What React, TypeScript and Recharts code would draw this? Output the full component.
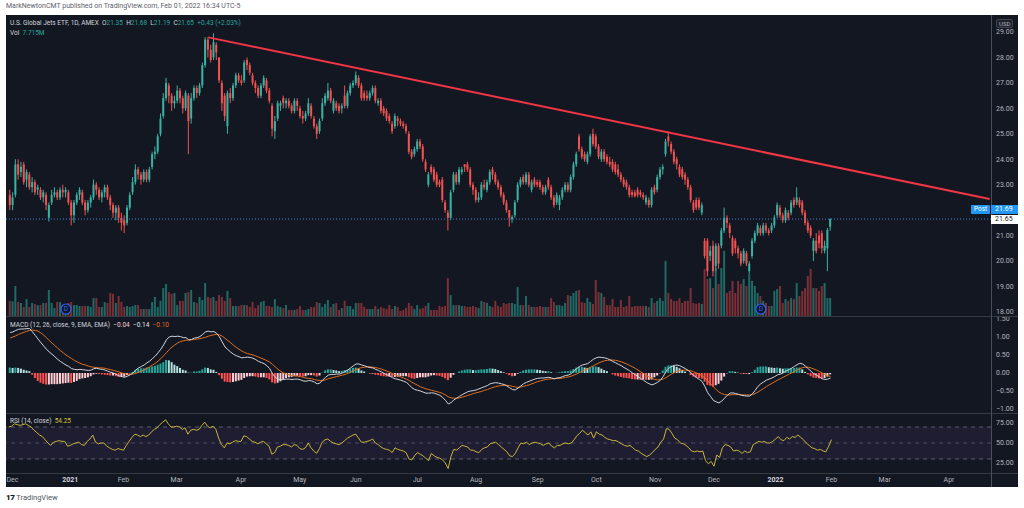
import React from "react";
import {
  Bar,
  Cell,
  ComposedChart,
  Line,
  ReferenceArea,
  ReferenceDot,
  ReferenceLine,
  XAxis,
  YAxis,
} from "recharts";

// daily bars, Dec 1 2020 .. Feb 1 2022 (index 0 .. 294)
const opens = [
  22.6, 22.2, 22.6, 23.8, 23.5, 23.8, 23.2, 23.4, 22.9, 23.1,
  22.8, 22.8, 22.5, 22.6, 21.7, 22.3, 22.6, 22.7, 22.5, 22.8,
  22.7, 22.7, 22.3, 21.8, 22.3, 22.6, 22.7, 22.3, 22.0, 22.3,
  22.5, 23.0, 22.8, 22.5, 22.7, 22.9, 22.5, 22.2, 21.9, 22.1,
  21.7, 21.6, 21.5, 22.1, 22.7, 23.1, 23.6, 23.4, 23.2, 23.5,
  23.2, 23.7, 24.2, 24.3, 25.0, 25.7, 26.4, 26.9, 26.5, 26.2,
  26.3, 26.7, 26.4, 26.0, 26.5, 25.6, 26.4, 26.8, 26.6, 26.9,
  27.7, 28.7, 28.3, 28.0, 28.5, 28.0, 27.0, 26.5, 25.3, 26.6,
  26.4, 26.9, 27.3, 27.1, 27.1, 27.9, 27.7, 27.3, 27.0, 26.8,
  26.5, 26.9, 27.1, 26.7, 26.1, 25.1, 25.6, 26.1, 26.4, 26.2,
  26.3, 26.1, 25.9, 26.3, 26.0, 25.7, 25.6, 25.8, 26.1, 25.6,
  25.3, 25.1, 25.6, 26.2, 26.4, 26.7, 25.9, 26.2, 26.1, 26.0,
  26.5, 26.1, 26.6, 26.9, 27.0, 27.2, 26.9, 26.6, 26.5, 26.4,
  26.6, 26.8, 26.2, 26.3, 26.0, 25.9, 25.7, 25.4, 25.3, 25.6,
  25.5, 25.4, 25.3, 25.0, 24.3, 24.2, 24.4, 24.7, 24.5, 23.9,
  23.0, 23.7, 23.6, 23.4, 23.1, 23.2, 22.3, 21.9, 21.7, 22.8,
  23.4, 23.1, 23.5, 23.8, 23.8, 23.6, 23.0, 22.8, 22.4, 22.5,
  23.0, 22.8, 23.1, 23.6, 23.4, 23.1, 22.9, 22.6, 22.3, 22.0,
  21.65, 21.8, 22.4, 23.0, 23.3, 23.1, 23.4, 22.8, 23.2, 23.1,
  23.1, 22.9, 22.7, 23.2, 22.9, 22.5, 22.3, 22.2, 22.5, 22.8,
  23.0, 22.8, 23.3, 23.8, 24.9, 24.4, 24.2, 23.9, 24.2, 25.0,
  24.9, 24.5, 24.0, 24.3, 24.1, 23.9, 23.9, 23.8, 23.6, 23.4,
  23.2, 23.1, 22.9, 22.7, 22.7, 22.8, 22.7, 22.6, 22.3, 22.4,
  22.2, 22.9, 22.8, 23.3, 23.6, 24.2, 24.9, 24.6, 24.3, 24.0,
  23.7, 23.6, 23.4, 23.2, 22.9, 22.3, 22.4, 22.4, 21.9, 20.8,
  20.8, 20.2, 20.6, 19.8, 20.6, 20.6, 21.2, 21.7, 21.4, 20.9,
  20.8, 20.5, 20.3, 20.0, 20.3, 19.6, 20.2, 20.8, 21.1, 21.3,
  21.1, 21.4, 21.2, 21.2, 21.4, 21.8, 22.1, 21.8, 21.6, 21.9,
  21.9, 22.4, 22.3, 22.4, 22.3, 21.9, 21.5, 21.3, 20.4, 20.8,
  21.0, 21.1, 20.4, 20.5, 21.35,
];

const highs = [
  22.8, 22.7, 24.0, 24.0, 23.9, 23.9, 23.6, 23.5, 23.3, 23.2,
  23.0, 22.9, 22.8, 22.7, 22.3, 22.8, 22.9, 22.8, 22.9, 23.0,
  22.9, 22.8, 22.4, 22.4, 22.7, 22.9, 22.8, 22.4, 22.4, 22.6,
  23.2, 23.1, 22.9, 22.8, 23.0, 23.0, 22.6, 22.3, 22.2, 22.2,
  21.9, 21.8, 22.2, 22.7, 23.3, 23.8, 23.7, 23.5, 23.6, 23.6,
  23.7, 24.3, 24.5, 25.0, 25.8, 26.6, 27.2, 27.0, 26.6, 26.5,
  26.9, 26.8, 26.5, 26.7, 26.6, 26.6, 26.9, 26.9, 27.0, 27.8,
  28.8, 28.8, 28.5, 28.95, 28.6, 28.0, 27.1, 26.6, 26.7, 26.8,
  27.0, 27.4, 27.4, 27.3, 27.9, 28.0, 27.8, 27.4, 27.1, 26.9,
  27.0, 27.3, 27.2, 26.8, 26.2, 25.7, 26.3, 26.3, 26.5, 26.4,
  26.4, 26.2, 26.4, 26.4, 26.1, 25.9, 25.9, 26.4, 26.2, 25.7,
  25.4, 25.6, 26.4, 26.6, 27.0, 26.8, 26.4, 26.3, 26.2, 26.2,
  26.9, 26.7, 27.0, 27.1, 27.45, 27.3, 27.0, 26.7, 26.7, 26.7,
  26.9, 26.9, 26.4, 26.4, 26.1, 26.0, 25.8, 25.5, 25.8, 25.7,
  25.6, 25.5, 25.4, 25.1, 24.4, 24.5, 24.8, 24.8, 24.6, 24.0,
  23.5, 23.8, 23.7, 23.5, 23.2, 23.3, 22.4, 22.0, 22.8, 23.5,
  23.5, 23.7, 23.7, 23.8, 23.9, 23.7, 23.1, 22.9, 22.7, 23.1,
  23.2, 23.2, 23.6, 23.7, 23.5, 23.2, 23.0, 22.7, 22.4, 22.0,
  21.8, 22.4, 23.1, 23.3, 23.4, 23.5, 23.5, 23.2, 23.3, 23.2,
  23.2, 23.0, 23.0, 23.3, 23.0, 22.6, 22.7, 22.6, 22.9, 23.1,
  23.1, 23.4, 23.9, 24.3, 25.0, 24.5, 24.3, 24.3, 25.0, 25.2,
  25.0, 24.6, 24.4, 24.4, 24.2, 24.1, 24.0, 23.9, 23.8, 23.5,
  23.3, 23.2, 23.0, 22.8, 22.8, 22.9, 22.8, 22.7, 22.6, 22.5,
  22.9, 23.0, 23.4, 23.7, 23.8, 24.8, 25.1, 24.7, 24.4, 24.1,
  23.8, 23.7, 23.5, 23.3, 23.0, 22.4, 22.5, 22.5, 22.3, 20.9,
  20.9, 20.6, 20.8, 20.7, 20.7, 21.3, 22.1, 21.8, 21.5, 21.0,
  20.9, 20.6, 20.4, 20.5, 20.4, 20.0, 20.9, 21.2, 21.5, 21.4,
  21.5, 21.5, 21.3, 21.5, 21.8, 22.3, 22.2, 21.9, 22.1, 22.0,
  22.4, 22.5, 22.9, 22.5, 22.4, 22.0, 21.6, 21.4, 20.9, 21.1,
  21.2, 21.2, 20.8, 21.3, 21.68,
];

const lows = [
  22.0, 22.0, 22.5, 23.2, 23.3, 23.0, 22.9, 22.8, 22.7, 22.6,
  22.6, 22.4, 22.3, 22.0, 21.55, 22.2, 22.5, 22.4, 22.4, 22.5,
  22.5, 22.2, 21.4, 21.5, 22.2, 22.4, 22.2, 21.8, 21.9, 22.1,
  22.4, 22.6, 22.4, 22.3, 22.5, 22.4, 22.0, 21.7, 21.6, 21.5,
  21.2, 21.1, 21.4, 22.0, 22.6, 23.0, 23.2, 23.0, 23.1, 23.1,
  23.1, 23.6, 24.0, 24.2, 24.9, 25.6, 26.3, 26.2, 25.9, 26.0,
  26.2, 26.2, 25.8, 25.9, 24.2, 25.4, 26.3, 26.4, 26.5, 26.8,
  27.6, 28.0, 27.8, 27.9, 27.9, 27.0, 25.9, 25.5, 25.0, 26.2,
  26.3, 26.8, 27.0, 26.9, 27.0, 27.5, 27.3, 26.9, 26.6, 26.4,
  26.4, 26.8, 26.6, 26.2, 24.9, 24.8, 25.5, 25.9, 26.0, 26.0,
  26.0, 25.8, 25.8, 25.9, 25.6, 25.4, 25.5, 25.7, 25.6, 25.2,
  24.8, 25.0, 25.5, 26.1, 26.3, 26.2, 25.8, 25.9, 25.8, 25.8,
  26.0, 26.0, 26.5, 26.8, 26.9, 26.8, 26.3, 26.3, 26.3, 26.3,
  26.5, 26.2, 26.1, 25.8, 25.7, 25.5, 25.4, 25.0, 25.2, 25.3,
  25.3, 25.2, 25.0, 24.2, 24.0, 24.1, 24.3, 24.4, 23.9, 23.5,
  22.9, 23.4, 23.1, 22.9, 22.9, 22.3, 21.9, 21.2, 21.6, 22.7,
  23.0, 23.0, 23.4, 23.5, 23.5, 22.9, 22.6, 22.3, 22.3, 22.4,
  22.8, 22.7, 23.0, 23.2, 23.0, 22.8, 22.5, 22.2, 21.9, 21.35,
  21.5, 21.7, 22.3, 22.9, 23.0, 23.0, 22.9, 22.7, 22.9, 22.9,
  22.8, 22.6, 22.6, 22.8, 22.4, 22.1, 22.2, 22.0, 22.4, 22.7,
  22.7, 22.7, 23.2, 23.7, 24.3, 24.0, 23.9, 23.8, 24.1, 24.5,
  24.4, 24.0, 23.9, 23.9, 23.8, 23.7, 23.5, 23.4, 23.3, 23.1,
  22.9, 22.8, 22.5, 22.5, 22.5, 22.5, 22.5, 22.4, 22.2, 22.1,
  22.1, 22.6, 22.7, 23.2, 23.4, 24.1, 24.5, 24.2, 23.8, 23.6,
  23.3, 23.2, 23.0, 22.8, 22.3, 21.9, 22.0, 22.0, 21.8, 20.1,
  19.4, 20.0, 19.4, 19.6, 19.7, 20.5, 21.1, 21.3, 20.9, 20.2,
  20.3, 20.1, 19.8, 19.9, 19.8, 19.5, 20.1, 20.7, 21.0, 21.0,
  21.0, 21.1, 21.0, 21.1, 21.3, 21.7, 21.7, 21.5, 21.5, 21.6,
  21.8, 22.1, 22.2, 22.1, 21.8, 21.4, 21.1, 20.9, 20.0, 20.3,
  20.5, 20.3, 20.3, 19.6, 21.19,
];

const closes = [
  22.2, 22.5, 23.8, 23.4, 23.7, 23.1, 23.5, 22.9, 23.1, 22.7,
  22.9, 22.5, 22.7, 22.2, 22.2, 22.6, 22.7, 22.5, 22.8, 22.7,
  22.8, 22.3, 21.8, 22.3, 22.6, 22.8, 22.3, 22.0, 22.3, 22.5,
  23.0, 22.8, 22.5, 22.7, 22.9, 22.5, 22.2, 21.9, 22.1, 21.7,
  21.5, 21.4, 22.1, 22.6, 23.1, 23.6, 23.4, 23.2, 23.5, 23.2,
  23.6, 24.2, 24.3, 24.9, 25.6, 26.4, 27.0, 26.5, 26.2, 26.3,
  26.7, 26.4, 26.0, 26.6, 25.5, 26.4, 26.8, 26.6, 26.9, 27.7,
  28.7, 28.3, 27.9, 28.6, 28.2, 27.1, 26.2, 25.7, 26.6, 26.4,
  26.9, 27.3, 27.1, 27.0, 27.8, 27.7, 27.4, 27.0, 26.8, 26.5,
  26.9, 27.2, 26.7, 26.3, 25.2, 25.5, 26.2, 26.2, 26.2, 26.3,
  26.1, 25.9, 26.3, 26.1, 25.7, 25.6, 25.8, 26.2, 25.7, 25.3,
  25.0, 25.5, 26.2, 26.5, 26.7, 26.3, 26.3, 26.0, 25.9, 26.1,
  26.1, 26.6, 26.9, 27.0, 27.3, 26.9, 26.4, 26.4, 26.4, 26.6,
  26.8, 26.3, 26.3, 25.9, 25.8, 25.6, 25.5, 25.1, 25.7, 25.5,
  25.4, 25.3, 25.1, 24.3, 24.1, 24.4, 24.7, 24.5, 24.0, 23.6,
  23.4, 23.5, 23.2, 23.0, 23.0, 22.4, 22.0, 21.7, 22.7, 23.4,
  23.1, 23.6, 23.6, 23.7, 23.6, 23.0, 22.8, 22.4, 22.5, 23.0,
  22.9, 23.1, 23.5, 23.4, 23.1, 22.9, 22.6, 22.3, 22.0, 21.7,
  21.72, 22.3, 23.0, 23.2, 23.1, 23.4, 23.0, 23.1, 23.0, 23.0,
  22.9, 22.7, 22.9, 22.9, 22.5, 22.2, 22.6, 22.5, 22.8, 23.0,
  22.8, 23.3, 23.8, 24.2, 24.4, 24.1, 24.0, 24.2, 24.9, 24.6,
  24.5, 24.1, 24.3, 24.0, 23.9, 23.8, 23.6, 23.5, 23.4, 23.2,
  23.0, 22.9, 22.6, 22.6, 22.55, 22.6, 22.6, 22.5, 22.5, 22.2,
  22.8, 22.7, 23.3, 23.6, 23.7, 24.7, 24.7, 24.3, 23.9, 23.8,
  23.4, 23.3, 23.2, 22.9, 22.4, 22.0, 22.1, 22.1, 22.2, 20.2,
  19.6, 20.4, 19.6, 20.6, 19.9, 21.2, 21.7, 21.5, 21.1, 20.3,
  20.5, 20.3, 19.9, 20.4, 19.9, 19.9, 20.8, 21.1, 21.4, 21.1,
  21.4, 21.2, 21.1, 21.4, 21.7, 22.2, 21.8, 21.6, 22.0, 21.7,
  22.3, 22.2, 22.5, 22.2, 21.9, 21.5, 21.2, 21.0, 20.8, 20.4,
  20.7, 20.5, 20.6, 21.22, 21.65,
];

// volume, millions
const volumes = [
  6.5, 6.3, 12.9, 6.0, 5.6, 3.9, 7.3, 3.9, 5.6, 5.2,
  4.7, 4.7, 5.6, 5.6, 11.2, 5.6, 3.4, 6.0, 6.0, 2.6,
  3.0, 5.6, 6.0, 4.7, 4.7, 4.3, 4.3, 4.3, 4.3, 3.9,
  7.7, 7.7, 3.9, 3.9, 6.0, 5.6, 9.9, 9.5, 5.6, 8.6,
  6.0, 3.9, 4.3, 3.9, 4.3, 4.7, 4.7, 3.0, 3.0, 3.0,
  3.0, 6.0, 8.2, 3.9, 6.5, 12.0, 13.8, 10.3, 9.5, 9.9,
  4.7, 6.5, 6.5, 9.9, 10.3, 11.2, 6.0, 5.6, 8.2, 6.9,
  14.2, 8.2, 7.7, 8.2, 6.5, 9.0, 8.2, 6.5, 10.8, 7.7,
  4.3, 4.3, 4.3, 4.7, 4.7, 4.7, 3.9, 6.0, 3.4, 4.7,
  6.0, 6.5, 4.3, 4.3, 3.9, 7.3, 4.3, 3.9, 3.4, 4.7,
  2.6, 2.6, 2.6, 3.0, 4.3, 2.6, 2.6, 3.0, 3.9, 3.9,
  6.0, 5.6, 3.9, 5.2, 6.9, 3.9, 5.2, 5.6, 2.6, 3.4,
  6.5, 4.3, 4.3, 3.0, 5.6, 5.6, 5.6, 3.9, 3.0, 3.0,
  3.0, 4.3, 3.0, 3.9, 3.4, 3.0, 4.7, 3.0, 4.3, 3.9,
  2.2, 2.6, 3.4, 5.6, 4.3, 3.0, 4.7, 3.0, 3.4, 4.3,
  5.6, 2.6, 2.6, 2.6, 4.3, 3.9, 4.3, 16.3, 9.0, 4.7,
  4.7, 4.7, 4.3, 4.3, 3.9, 3.9, 4.3, 3.9, 3.4, 6.5,
  6.0, 5.6, 4.3, 3.9, 6.5, 4.3, 3.9, 5.6, 5.2, 5.6,
  5.6, 5.2, 12.5, 4.7, 4.7, 8.6, 4.7, 3.9, 3.9, 3.9,
  4.3, 3.9, 3.9, 3.9, 7.7, 6.0, 4.7, 4.7, 4.3, 5.6,
  9.0, 8.6, 9.9, 10.8, 11.2, 6.0, 5.6, 7.7, 6.0, 5.2,
  15.5, 10.3, 9.9, 8.2, 4.7, 4.7, 7.3, 3.9, 3.9, 6.9,
  3.9, 4.3, 8.6, 3.9, 4.3, 4.3, 4.3, 4.3, 4.3, 3.9,
  7.7, 5.6, 6.5, 7.7, 6.5, 23.7, 9.9, 7.3, 6.5, 6.5,
  7.7, 5.6, 6.5, 6.5, 12.0, 5.6, 5.2, 5.6, 5.2, 20.2,
  15.9, 16.3, 12.0, 20.6, 13.8, 20.6, 28.0, 9.9, 10.8, 15.1,
  9.9, 15.1, 13.8, 15.9, 12.9, 18.1, 15.1, 12.9, 9.9, 8.6,
  6.5, 5.6, 4.3, 4.3, 10.8, 11.6, 12.9, 5.6, 7.3, 6.5,
  7.7, 7.3, 14.2, 8.6, 10.8, 12.0, 17.2, 20.2, 12.0, 12.0,
  10.8, 12.9, 14.2, 7.7, 7.715,
];

const macdLine = [
  1.12, 1.14, 1.18, 1.21, 1.22, 1.22, 1.23, 1.23, 1.14, 1.04,
  0.94, 0.84, 0.75, 0.66, 0.58, 0.52, 0.45, 0.38, 0.32, 0.27,
  0.22, 0.18, 0.12, 0.1, 0.09, 0.1, 0.09, 0.08, 0.07, 0.08,
  0.12, 0.13, 0.11, 0.1, 0.08, 0.05, 0.02, 0.0, -0.04, -0.08,
  -0.1, -0.12, -0.09, -0.05, 0.0, 0.08, 0.14, 0.18, 0.22, 0.28,
  0.33, 0.4, 0.47, 0.56, 0.66, 0.78, 0.92, 1.0, 1.02, 1.01,
  1.02, 1.01, 0.98, 0.98, 0.92, 0.93, 0.97, 0.98, 1.01, 1.07,
  1.14, 1.16, 1.14, 1.15, 1.1, 1.0, 0.86, 0.72, 0.65, 0.58,
  0.52, 0.48, 0.45, 0.42, 0.43, 0.44, 0.43, 0.41, 0.37, 0.32,
  0.29, 0.26, 0.2, 0.12, -0.02, -0.12, -0.17, -0.19, -0.18, -0.17,
  -0.17, -0.18, -0.17, -0.17, -0.19, -0.22, -0.23, -0.21, -0.22, -0.25,
  -0.3, -0.28, -0.2, -0.12, -0.06, -0.04, -0.04, -0.03, -0.03, 0.0,
  0.04, 0.08, 0.14, 0.2, 0.25, 0.25, 0.22, 0.2, 0.17, 0.15,
  0.14, 0.1, 0.07, 0.03, -0.01, -0.05, -0.08, -0.13, -0.16, -0.18,
  -0.2, -0.23, -0.26, -0.33, -0.41, -0.46, -0.48, -0.5, -0.53, -0.56,
  -0.56, -0.55, -0.56, -0.59, -0.62, -0.68, -0.76, -0.86, -0.82, -0.75,
  -0.7, -0.65, -0.6, -0.56, -0.52, -0.5, -0.49, -0.47, -0.44, -0.41,
  -0.38, -0.35, -0.3, -0.28, -0.27, -0.28, -0.3, -0.32, -0.36, -0.41,
  -0.46, -0.47, -0.42, -0.36, -0.3, -0.26, -0.23, -0.2, -0.17, -0.15,
  -0.14, -0.14, -0.13, -0.12, -0.14, -0.16, -0.14, -0.13, -0.1, -0.07,
  -0.06, -0.02, 0.05, 0.12, 0.18, 0.22, 0.24, 0.26, 0.32, 0.38,
  0.42, 0.44, 0.43, 0.42, 0.4, 0.36, 0.32, 0.28, 0.24, 0.2,
  0.15, 0.11, 0.06, 0.0, -0.05, -0.1, -0.16, -0.2, -0.26, -0.3,
  -0.33, -0.3, -0.26, -0.2, -0.1, 0.04, 0.13, 0.18, 0.21, 0.22,
  0.2, 0.16, 0.12, 0.07, 0.0, -0.07, -0.13, -0.18, -0.24, -0.38,
  -0.55, -0.65, -0.76, -0.8, -0.83, -0.78, -0.7, -0.62, -0.56, -0.55,
  -0.57, -0.59, -0.62, -0.63, -0.64, -0.64, -0.58, -0.48, -0.37, -0.3,
  -0.25, -0.2, -0.17, -0.14, -0.1, -0.05, -0.03, 0.0, 0.05, 0.09,
  0.13, 0.18, 0.23, 0.27, 0.25, 0.19, 0.12, 0.05, -0.02, -0.06,
  -0.11, -0.16, -0.18, -0.17, -0.14,
];

const signalLine = [
  0.97, 1.0, 1.03, 1.07, 1.1, 1.13, 1.16, 1.18, 1.19, 1.18,
  1.16, 1.11, 1.05, 0.98, 0.9, 0.83, 0.76, 0.69, 0.62, 0.56,
  0.5, 0.45, 0.4, 0.35, 0.31, 0.27, 0.24, 0.22, 0.19, 0.17,
  0.16, 0.15, 0.14, 0.14, 0.13, 0.11, 0.09, 0.07, 0.05, 0.03,
  0.0, -0.02, -0.03, -0.04, -0.03, -0.01, 0.02, 0.05, 0.09, 0.13,
  0.17, 0.22, 0.27, 0.33, 0.4, 0.48, 0.56, 0.65, 0.72, 0.78,
  0.83, 0.87, 0.89, 0.91, 0.91, 0.92, 0.93, 0.94, 0.95, 0.97,
  0.99, 1.02, 1.04, 1.06, 1.07, 1.06, 1.02, 0.96, 0.9, 0.84,
  0.77, 0.71, 0.66, 0.61, 0.57, 0.54, 0.52, 0.5, 0.47, 0.44,
  0.41, 0.38, 0.34, 0.3, 0.24, 0.17, 0.1, 0.04, 0.0, -0.03,
  -0.05, -0.07, -0.08, -0.09, -0.1, -0.12, -0.14, -0.15, -0.16, -0.18,
  -0.2, -0.21, -0.21, -0.19, -0.16, -0.14, -0.12, -0.1, -0.08, -0.06,
  -0.04, -0.01, 0.02, 0.06, 0.1, 0.13, 0.15, 0.16, 0.17, 0.17,
  0.16, 0.15, 0.13, 0.11, 0.08, 0.05, 0.02, -0.02, -0.05, -0.08,
  -0.11, -0.14, -0.17, -0.21, -0.26, -0.3, -0.34, -0.38, -0.41, -0.44,
  -0.46, -0.48, -0.5, -0.52, -0.54, -0.57, -0.61, -0.66, -0.69, -0.7,
  -0.7, -0.69, -0.67, -0.65, -0.62, -0.6, -0.57, -0.55, -0.53, -0.51,
  -0.48, -0.46, -0.43, -0.4, -0.38, -0.36, -0.35, -0.34, -0.34, -0.35,
  -0.37, -0.39, -0.4, -0.39, -0.37, -0.35, -0.33, -0.3, -0.27, -0.24,
  -0.22, -0.2, -0.18, -0.17, -0.16, -0.16, -0.15, -0.15, -0.14, -0.12,
  -0.11, -0.09, -0.06, -0.03, 0.01, 0.05, 0.09, 0.12, 0.16, 0.2,
  0.24, 0.28, 0.31, 0.34, 0.35, 0.36, 0.36, 0.35, 0.33, 0.31,
  0.28, 0.25, 0.21, 0.17, 0.13, 0.08, 0.03, -0.02, -0.07, -0.11,
  -0.15, -0.18, -0.19, -0.19, -0.17, -0.13, -0.08, -0.03, 0.01, 0.05,
  0.07, 0.08, 0.08, 0.07, 0.06, 0.03, 0.0, -0.04, -0.08, -0.14,
  -0.22, -0.3, -0.38, -0.46, -0.53, -0.57, -0.6, -0.61, -0.61, -0.6,
  -0.6, -0.6, -0.6, -0.61, -0.61, -0.61, -0.6, -0.57, -0.53, -0.48,
  -0.43, -0.38, -0.33, -0.29, -0.24, -0.2, -0.16, -0.12, -0.08, -0.04,
  0.0, 0.04, 0.08, 0.12, 0.15, 0.16, 0.16, 0.14, 0.11, 0.08,
  0.04, 0.0, -0.04, -0.07, -0.1,
];

const rsiLine = [
  70, 71, 74, 73, 72, 73, 74, 72, 70, 66,
  63, 60, 58, 54, 50, 47, 51, 52, 53, 52,
  52, 46, 47, 49, 50, 51, 48, 47, 52, 55,
  60, 51, 49, 50, 50, 46, 44, 42, 41, 43,
  42, 41, 47, 52, 57, 61, 60, 58, 60, 58,
  60, 64, 67, 69, 73, 76, 79, 74, 70, 70,
  71, 70, 67, 69, 61, 66, 67, 66, 67, 72,
  76, 71, 69, 71, 67, 56, 48, 44, 50, 49,
  51, 53, 52, 52, 59, 58, 55, 52, 51, 49,
  51, 52, 49, 46, 36, 38, 45, 46, 48, 48,
  47, 45, 48, 47, 43, 42, 44, 50, 44, 40,
  37, 43, 51, 54, 55, 52, 50, 49, 48, 50,
  53, 56, 58, 60, 61, 56, 51, 51, 52, 53,
  55, 50, 48, 45, 43, 42, 41, 38, 44, 42,
  41, 40, 38, 30, 29, 34, 38, 36, 34, 31,
  28, 37, 34, 32, 31, 29, 25, 18, 33, 42,
  41, 44, 47, 46, 45, 41, 41, 39, 38, 42,
  44, 45, 49, 50, 51, 48, 45, 42, 39, 34,
  33, 37, 44, 50, 49, 51, 48, 50, 51, 50,
  49, 47, 49, 50, 46, 44, 47, 47, 49, 50,
  49, 50, 54, 59, 62, 66, 63, 60, 64, 56,
  64, 61, 60, 57, 55, 54, 53, 53, 51, 49,
  47, 46, 47, 44, 41, 40, 37, 35, 33, 35,
  38, 42, 45, 51, 55, 68, 67, 62, 56, 54,
  50, 49, 47, 44, 40, 39, 40, 39, 40, 28,
  24, 27, 21, 35, 32, 44, 48, 47, 45, 40,
  41, 40, 37, 40, 38, 39, 48, 50, 52, 51,
  52, 50, 50, 52, 55, 58, 54, 53, 57, 55,
  58, 57, 60, 57, 54, 50, 47, 44, 43, 41,
  42, 40, 39, 46, 54.25,
];

const monthTicks = [0, 22, 41, 60, 83, 104, 124, 146, 167, 189, 210, 231, 252, 274, 294, 313, 336];
const monthLabels = ["Dec", "2021", "Feb", "Mar", "Apr", "May", "Jun", "Jul", "Aug", "Sep", "Oct", "Nov", "Dec", "2022", "Feb", "Mar", "Apr"];
const priceTicks = [18, 19, 20, 21, 22, 23, 24, 25, 26, 27, 28, 29];
const macdTicks = [-1, -0.5, 0, 0.5, 1, 1.5];
const rsiTicks = [25, 50, 75];
const dividendIdx = [20, 269];
const trendFrom = { i: 71, price: 28.79 };
const trendTo = { i: 351, price: 22.44 };
const lastClose = 21.65;

const BG = "#131722";
const UP = "#38b2a3";
const DOWN = "#ef5350";
const VOL_UP = "#1e6a65";
const VOL_DOWN = "#7a3036";
const TXT = "#b2b5be";
const FONT = "Roboto, 'Noto Sans', sans-serif";
const W = 1012;

const rows: any[] = [];
let prevHist: number | null = null;
for (let i = -1; i <= 351; i++) {
  if (i < 0 || i >= closes.length) {
    rows.push({ i });
    continue;
  }
  const hist = Math.round((macdLine[i] - signalLine[i]) * 100) / 100;
  const p = prevHist === null ? hist : prevHist;
  const histColor = hist >= 0 ? (hist >= p ? "#26a69a" : "#b2dfdb") : hist < p ? "#ff5252" : "#ffcdd2";
  prevHist = hist;
  rows.push({
    i,
    o: opens[i],
    h: highs[i],
    l: lows[i],
    c: closes[i],
    range: [lows[i], highs[i]],
    up: closes[i] >= opens[i],
    vol: volumes[i],
    macd: macdLine[i],
    signal: signalLine[i],
    hist,
    histColor,
    rsi: rsiLine[i],
  });
}

function Candle(props: any) {
  const { x, y, width, height, payload } = props;
  if (!payload || payload.o == null) return null;
  const { o, h, l, c } = payload;
  const top = Math.min(y, y + height);
  const span = Math.abs(height);
  const py = (v: number) => (h === l ? top : top + ((h - v) / (h - l)) * span);
  const color = c >= o ? UP : DOWN;
  const bTop = py(Math.max(o, c));
  const bBot = py(Math.min(o, c));
  const cx = x + width / 2;
  return (
    <g>
      <line x1={cx} x2={cx} y1={top} y2={top + span} stroke={color} strokeWidth={1} />
      <rect x={x} y={bTop} width={width} height={Math.max(1, bBot - bTop)} fill={color} />
    </g>
  );
}

function VolBar(props: any) {
  const { x, y, width, height, payload } = props;
  if (!payload || payload.vol == null) return null;
  return (
    <rect
      x={x}
      y={Math.min(y, y + height)}
      width={width}
      height={Math.abs(height)}
      fill={payload.up ? VOL_UP : VOL_DOWN}
    />
  );
}

function DivMark(props: any) {
  const { cx, cy } = props;
  return (
    <g>
      <circle cx={cx} cy={cy} r={5} fill={BG} stroke="#2962ff" strokeWidth={1.2} />
      <text x={cx} y={cy} dy="0.35em" textAnchor="middle" fontSize={6.5} fill="#2962ff" fontFamily={FONT}>
        D
      </text>
    </g>
  );
}

const fmt = (v: number) => (v < 0 ? "\u2212" + Math.abs(v).toFixed(2) : v.toFixed(2));

function AxisTick(props: any) {
  const { x, y, payload } = props;
  return (
    <text x={x + 5} y={y} dy="0.35em" fill={TXT} fontSize={7} fontFamily={FONT}>
      {fmt(payload.value)}
    </text>
  );
}

function TimeTick(props: any) {
  const { x, y, payload } = props;
  const label = monthLabels[monthTicks.indexOf(payload.value)];
  const year = /^\d{4}$/.test(label || "");
  return (
    <text
      x={Math.max(x, 6.5)}
      y={y + 7}
      dy="0.35em"
      textAnchor="middle"
      fill={year ? "#d1d4dc" : TXT}
      fontWeight={year ? 700 : 400}
      fontSize={7}
      fontFamily={FONT}
    >
      {label}
    </text>
  );
}

const M = { top: 0, right: 0, bottom: 0, left: 0 };

const abs = (left: number, top: number, extra: React.CSSProperties = {}): React.CSSProperties => ({
  position: "absolute",
  left,
  top,
  ...extra,
});

export default function App() {
  return (
    <div style={{ position: "absolute", left: 0, top: 0, width: 1024, height: 508, background: "#fff", fontFamily: FONT, overflow: "hidden" }}>
      <div style={abs(6, 2, { fontSize: 7, color: "#5d606b", whiteSpace: "nowrap" })}>
        MarkNewtonCMT published on TradingView.com, Feb 01, 2022 16:34 UTC-5
      </div>
      <div style={abs(6, 15, { width: 1012, height: 472, background: BG })} />

      {/* price + volume */}
      <div style={abs(6, 16)}>
        <ComposedChart width={W} height={300} data={rows} margin={M}>
          <XAxis xAxisId="x" dataKey="i" type="category" hide />
          <XAxis xAxisId="xv" dataKey="i" type="category" hide />
          <YAxis
            yAxisId="p"
            orientation="right"
            width={27}
            domain={[17.84, 29.63]}
            ticks={priceTicks}
            interval={0}
            tick={AxisTick}
            tickLine={false}
            axisLine={false}
            tickSize={0}
            tickMargin={0}
            allowDataOverflow
          />
          <YAxis yAxisId="v" hide domain={[0, 129]} allowDataOverflow />
          <Bar xAxisId="xv" yAxisId="v" dataKey="vol" barSize={2} isAnimationActive={false} shape={VolBar} />
          {dividendIdx.map((d) => (
            <ReferenceDot key={d} xAxisId="xv" yAxisId="v" x={d} y={3} r={5} shape={DivMark} />
          ))}
          <Bar xAxisId="x" yAxisId="p" dataKey="range" barSize={2} isAnimationActive={false} shape={Candle} />
          <ReferenceLine xAxisId="x" yAxisId="p" y={lastClose} stroke="#4f7cc4" strokeDasharray="1 2" />
          <ReferenceLine
            xAxisId="x"
            yAxisId="p"
            segment={[
              { x: trendFrom.i, y: trendFrom.price },
              { x: trendTo.i, y: trendTo.price },
            ]}
            stroke="#f23645"
            strokeWidth={2}
          />
        </ComposedChart>
      </div>

      {/* MACD */}
      <div style={abs(6, 316)}>
        <ComposedChart width={W} height={97} data={rows} margin={M}>
          <XAxis dataKey="i" type="category" hide />
          <YAxis
            orientation="right"
            width={27}
            domain={[-1.11, 1.58]}
            ticks={macdTicks}
            interval={0}
            tick={AxisTick}
            tickLine={false}
            axisLine={false}
            tickSize={0}
            tickMargin={0}
            allowDataOverflow
          />
          <Bar dataKey="hist" barSize={2} isAnimationActive={false}>
            {rows.map((r, k) => (
              <Cell key={k} fill={r.histColor || "transparent"} />
            ))}
          </Bar>
          <Line dataKey="signal" stroke="#e0701e" strokeWidth={1} dot={false} isAnimationActive={false} />
          <Line dataKey="macd" stroke="#d1d4dc" strokeWidth={1} dot={false} isAnimationActive={false} />
        </ComposedChart>
      </div>

      {/* RSI + time axis */}
      <div style={abs(6, 413)}>
        <ComposedChart width={W} height={74} data={rows} margin={M}>
          <XAxis
            dataKey="i"
            type="category"
            height={14}
            ticks={monthTicks}
            interval={0}
            tick={TimeTick}
            tickLine={false}
            axisLine={false}
            tickSize={0}
            tickMargin={0}
          />
          <YAxis
            orientation="right"
            width={27}
            domain={[12.5, 87.5]}
            ticks={rsiTicks}
            interval={0}
            tick={AxisTick}
            tickLine={false}
            axisLine={false}
            tickSize={0}
            tickMargin={0}
            allowDataOverflow
          />
          <ReferenceArea y1={30} y2={70} fill="#7e57c2" fillOpacity={0.1} stroke="none" />
          <ReferenceLine y={70} stroke="#787b86" strokeOpacity={0.7} strokeDasharray="4 4" />
          <ReferenceLine y={50} stroke="#787b86" strokeOpacity={0.5} strokeDasharray="4 4" />
          <ReferenceLine y={30} stroke="#787b86" strokeOpacity={0.7} strokeDasharray="4 4" />
          <Line dataKey="rsi" stroke="#c9b53a" strokeWidth={1} dot={false} isAnimationActive={false} />
        </ComposedChart>
      </div>

      {/* pane borders */}
      <div style={abs(6, 316, { width: 1012, height: 1, background: "#363a45" })} />
      <div style={abs(6, 413, { width: 1012, height: 1, background: "#363a45" })} />
      <div style={abs(6, 473, { width: 1012, height: 1, background: "#363a45" })} />
      <div style={abs(991, 15, { width: 1, height: 472, background: "#4a4e59" })} />

      {/* legends */}
      <div style={abs(10, 19, { fontSize: 6.5, color: "#d1d4dc", whiteSpace: "nowrap" })}>
        U.S. Global Jets ETF, 1D, AMEX&nbsp;&nbsp;O<span style={{ color: "#26a69a" }}>21.35</span>&nbsp;&nbsp;H
        <span style={{ color: "#26a69a" }}>21.68</span>&nbsp;&nbsp;L<span style={{ color: "#26a69a" }}>21.19</span>&nbsp;&nbsp;C
        <span style={{ color: "#26a69a" }}>21.65</span>&nbsp;&nbsp;<span style={{ color: "#26a69a" }}>+0.43 (+2.03%)</span>
      </div>
      <div style={abs(10, 29, { fontSize: 6.5, color: "#d1d4dc", whiteSpace: "nowrap" })}>
        Vol&nbsp;&nbsp;<span style={{ color: "#26a69a" }}>7.715M</span>
      </div>
      <div style={abs(10, 321, { fontSize: 6.5, color: "#d1d4dc", whiteSpace: "nowrap" })}>
        MACD (12, 26, close, 9, EMA, EMA)&nbsp;&nbsp;<span style={{ color: "#ffcdd2" }}>{"\u22120.04"}</span>&nbsp;&nbsp;
        <span style={{ color: "#e0e3eb" }}>{"\u22120.14"}</span>&nbsp;&nbsp;<span style={{ color: "#e0701e" }}>{"\u22120.10"}</span>
      </div>
      <div style={abs(10, 417, { fontSize: 6.5, color: "#d1d4dc", whiteSpace: "nowrap" })}>
        RSI (14, close)&nbsp;&nbsp;<span style={{ color: "#d6c33c" }}>54.25</span>
      </div>

      {/* price scale labels */}
      <div style={abs(996, 19, { fontSize: 6, color: TXT, border: "1px solid #434651", borderRadius: 2, padding: "0 2px", lineHeight: "7px", background: "#1e222d" })}>
        USD
      </div>
      <div style={abs(971, 205, { width: 19, height: 9, background: "#2196f3", color: "#fff", fontSize: 6.5, lineHeight: "9px", textAlign: "center", borderRadius: 1 })}>
        Post
      </div>
      <div style={abs(991, 205, { width: 27, height: 9, background: "#2196f3", color: "#fff", fontSize: 7, lineHeight: "9px", paddingLeft: 4, boxSizing: "border-box" })}>
        21.69
      </div>
      <div style={abs(991, 214.5, { width: 27, height: 9, background: "#ffffff", color: "#131722", fontSize: 7, lineHeight: "9px", paddingLeft: 4, boxSizing: "border-box" })}>
        21.65
      </div>

      {/* footer logo */}
      <div style={abs(6, 493, { display: "flex", alignItems: "center", gap: 2, whiteSpace: "nowrap" })}>
        <span style={{ fontSize: 8, fontWeight: 900, color: "#131722", letterSpacing: -0.5 }}>17</span>
        <span style={{ fontSize: 7.5, color: "#50535e" }}>TradingView</span>
      </div>
    </div>
  );
}
